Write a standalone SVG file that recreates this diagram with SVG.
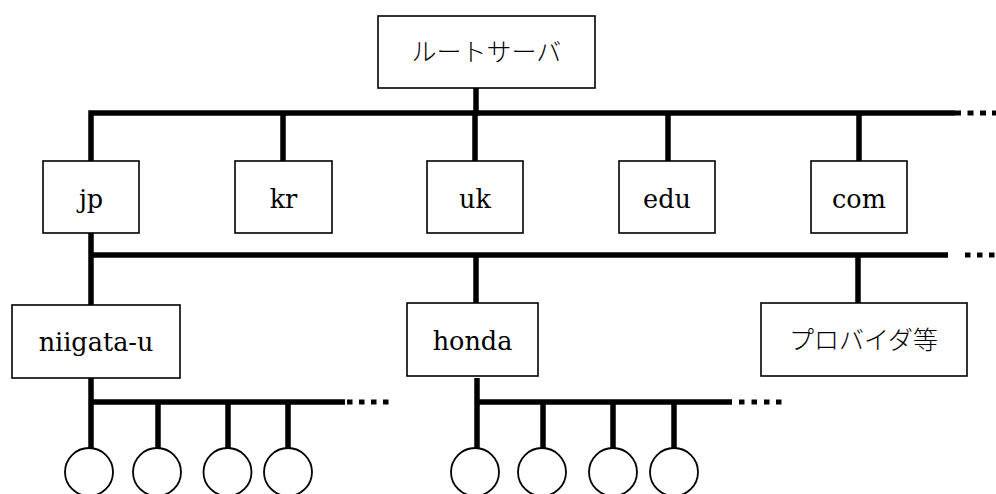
<svg xmlns="http://www.w3.org/2000/svg" width="996" height="494" viewBox="0 0 996 494">
<style>
.box{fill:#fff;stroke:#000;stroke-width:1.6}
.bus{fill:none;stroke:#000;stroke-width:5.5;stroke-linejoin:miter;stroke-linecap:butt}
.dot{fill:#000}
.host{fill:#fff;stroke:#000;stroke-width:1.8}
.lat{font-family:"DejaVu Serif","Liberation Serif",serif;font-size:25.5px;text-anchor:middle;fill:#000}
.jpn{font-family:"Noto Sans CJK JP",sans-serif;font-size:25px;text-anchor:middle;fill:#000;font-weight:300}
</style>
<rect width="996" height="494" fill="#fff"/>
<g id="connectors">
<path class="bus" d="M476 88V113"/>
<path class="bus" d="M91 161V113H955"/>
<path class="bus" d="M283 113V161M475 113V161M668 113V161M859 113V161"/>
<g class="dot"><rect x="955" y="110.5" width="6" height="5"/><rect x="967.5" y="110.5" width="6" height="5"/><rect x="980" y="110.5" width="6" height="5"/><rect x="992" y="110.5" width="4" height="5"/></g>
<path class="bus" d="M91 233V305M91 255H948M476 255V303M858 255V303"/>
<g class="dot"><rect x="965" y="252.5" width="5.5" height="5"/><rect x="977" y="252.5" width="5.5" height="5"/><rect x="989" y="252.5" width="5.5" height="5"/></g>
<path class="bus" d="M91 378V448M91 402H345M158 402V448M228 402V448M288 402V448"/>
<g class="dot"><rect x="347" y="399.5" width="5.5" height="5"/><rect x="359" y="399.5" width="5.5" height="5"/><rect x="371" y="399.5" width="5.5" height="5"/><rect x="383" y="399.5" width="5.5" height="5"/></g>
<path class="bus" d="M477 378V448M477 402H732M543 402V448M613 402V448M674 402V448"/>
<g class="dot"><rect x="739" y="399.5" width="5.5" height="5"/><rect x="751.5" y="399.5" width="5.5" height="5"/><rect x="764" y="399.5" width="5.5" height="5"/><rect x="776" y="399.5" width="5.5" height="5"/></g>
</g>
<g id="root"><rect class="box" x="378" y="16" width="217" height="72"/><text class="jpn" x="486.5" y="61">ルートサーバ</text></g>
<g id="jp"><rect class="box" x="43" y="161" width="96" height="72"/><text class="lat" x="91" y="207.5">jp</text></g>
<g id="kr"><rect class="box" x="235" y="161" width="97" height="72"/><text class="lat" x="283.5" y="207.5">kr</text></g>
<g id="uk"><rect class="box" x="427" y="161" width="96" height="72"/><text class="lat" x="475" y="207.5">uk</text></g>
<g id="edu"><rect class="box" x="619" y="161" width="96" height="72"/><text class="lat" x="667" y="207.5">edu</text></g>
<g id="com"><rect class="box" x="811" y="161" width="96" height="72"/><text class="lat" x="859" y="207.5">com</text></g>
<g id="niigata-u"><rect class="box" x="12" y="305" width="168" height="73"/><text class="lat" x="96" y="351">niigata-u</text></g>
<g id="honda"><rect class="box" x="407" y="303" width="131" height="73"/><text class="lat" x="472.5" y="350">honda</text></g>
<g id="provider"><rect class="box" x="761" y="303" width="206" height="73"/><text class="jpn" x="863.5" y="349">プロバイダ等</text></g>
<g id="hosts-niigata">
<circle class="host" cx="89" cy="472" r="24"/><circle class="host" cx="157" cy="472" r="24"/><circle class="host" cx="227.5" cy="472" r="24"/><circle class="host" cx="288" cy="472" r="24"/>
</g>
<g id="hosts-honda">
<circle class="host" cx="475" cy="472" r="24"/><circle class="host" cx="542" cy="472" r="24"/><circle class="host" cx="613" cy="472" r="24"/><circle class="host" cx="674" cy="472" r="24"/>
</g>
</svg>
